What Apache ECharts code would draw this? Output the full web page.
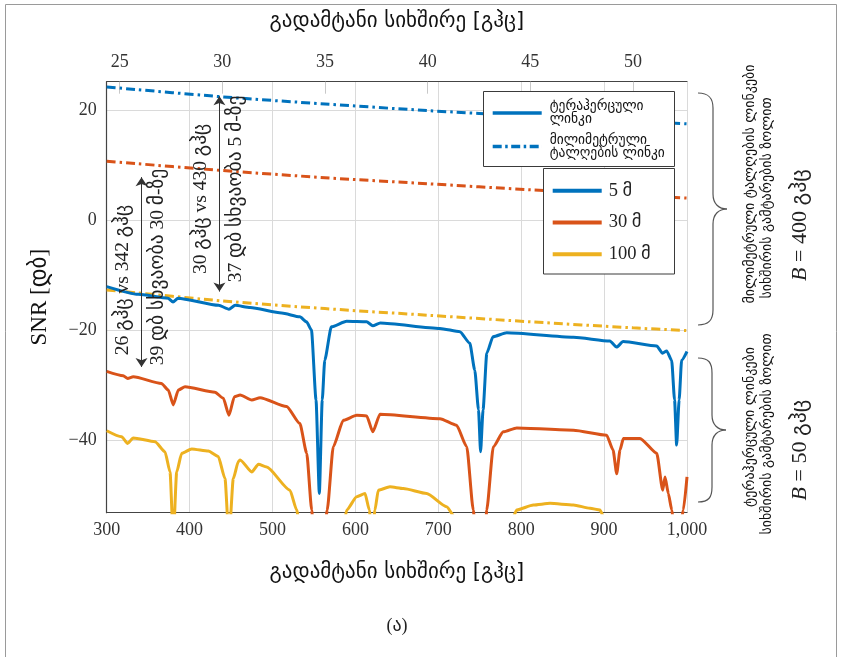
<!DOCTYPE html>
<html>
<head>
<meta charset="utf-8">
<script src="https://cdn.jsdelivr.net/npm/echarts@6/dist/echarts.min.js"></script>
<style>
  html, body { margin: 0; padding: 0; background: #fff; }
  #chart { width: 842px; height: 657px; }
</style>
</head>
<body>
<div id="chart"></div>
<script>
// SNR of terahertz links (bottom axis, 300–1000 GHz) against millimetre-wave links
// (top axis, ~24–53 GHz) for three link distances.

// Tick values
const topTicks = [25, 30, 35, 40, 45, 50];
const snrTicks = [-40, -20, 0, 20];

// Terahertz link, 5 m
const thz5mFreq = [300, 338, 374, 380, 386, 435, 447.5, 455, 473, 511, 533, 541, 547, 552.5, 556.5, 560, 563, 571, 589.5, 613.5, 621, 630, 702, 726, 738, 744, 748.5, 751, 754, 758.5, 766, 782.5, 863, 907, 915, 923, 963.5, 970.5, 975.5, 981.5, 985, 987.5, 990.5, 993.5, 1000];
const thz5mSnr  = [-12.1, -13.5, -14.2, -14.9, -14.2, -15.5, -16.2, -15.5, -15.9, -16.9, -17.6, -18.5, -20.0, -32.7, -49.7, -32.7, -25.5, -19.4, -18.4, -18.5, -19.2, -18.7, -19.7, -20.3, -22.4, -27.3, -34.5, -42.1, -34.5, -24.2, -21.2, -20.5, -21.3, -22.0, -23.1, -22.1, -22.9, -24.2, -23.8, -25.5, -32.7, -40.9, -32.7, -25.5, -23.9];

// Terahertz link, 30 m
const thz30mFreq = [300, 320, 325.3, 332, 366, 374.3, 380.3, 386.4, 394.5, 430.6, 440.7, 447.5, 454, 461, 475, 485, 517, 533, 541.3, 547.3, 550, 556, 562, 566, 573.3, 585.4, 601.6, 613.6, 621, 629.7, 702, 722, 734.3, 742.2, 745.5, 751.5, 756.3, 758.4, 766.4, 778.4, 794.6, 863, 903, 910.8, 915.2, 919.2, 923.2, 943.3, 963.5, 970.7, 973.5, 977.5, 981.6, 987.6, 995.6, 1000];
const thz30mSnr  = [-27.5, -28.3, -28.8, -28.5, -29.7, -30.9, -33.6, -30.9, -30.3, -31.3, -32.4, -35.5, -32.1, -31.8, -32.7, -32.3, -33.9, -37.0, -42.4, -52.7, -58, -62, -58, -52.7, -41.2, -36.4, -35.5, -35.6, -38.5, -35.3, -36.1, -37.3, -41.2, -52.7, -58, -62, -58, -52.7, -41.2, -38.5, -37.8, -38.2, -39.1, -41.8, -46.1, -41.8, -39.7, -39.7, -42.4, -49.1, -46.7, -49.7, -52.7, -62, -52.7, -46.7];

// Terahertz link, 100 m
const thz100mFreq = [300, 318, 325.3, 332, 358.3, 370.3, 376.4, 380.3, 384.4, 390.5, 402.5, 422.6, 434.6, 442.7, 447.5, 452.7, 458.8, 461, 475, 483, 493, 521, 529.2, 533.2, 545, 557, 575, 585, 589.5, 601.6, 611.6, 616.8, 620, 623.6, 627.6, 641.7, 657.8, 686, 710, 722, 750, 789, 794.6, 814.6, 834.8, 863, 883, 895, 901, 950, 1000];
const thz100mSnr  = [-38.3, -39.4, -40.6, -39.6, -40.3, -42.1, -45.8, -58, -45.8, -42.4, -41.6, -42.0, -43.0, -47.0, -58, -47.0, -43.9, -43.6, -45.8, -44.4, -44.9, -49.1, -52.7, -56.4, -62, -70, -62, -56.4, -52.7, -50.3, -49.7, -52.7, -58, -52.7, -49.1, -48.5, -48.8, -49.7, -52.1, -54.5, -62, -54.5, -52.7, -51.8, -51.5, -51.8, -52.4, -52.7, -54.5, -62, -62];

// Millimetre-wave links (top axis frequency)
const mmFreq     = [24.37, 30, 35, 40, 45, 50, 52.63];
const mm5mSnr    = [24.2, 22.4, 21.1, 19.9, 18.9, 18.0, 17.5];
const mm30mSnr   = [10.7, 9.0, 7.7, 6.6, 5.5, 4.5, 4.0];
const mm100mSnr  = [-12.7, -14.7, -16.1, -17.3, -18.5, -19.6, -20.1];

// Difference arrows: bottom-axis frequency, upper and lower SNR ends
const arrowFreq   = [342, 436];
const arrowTop    = [7.8, 22.5];
const arrowBottom = [-26.7, -13.0];
const arrowLeftText  = ['26 გჰც vs 342 გჰც', '30 გჰც vs 430 გჰც'];
const arrowRightText = ['39 დბ სხვაობა 30 მ-ზე', '37 დბ სხვაობა 5 მ-ზე'];

const lineKindNames = ['ტერაჰერცული\nლინკი', 'მილიმეტრული\nტალღების ლინკი'];
const distanceNames = ['5 მ', '30 მ', '100 მ'];

const BLUE = '#0072BD', ORANGE = '#D95319', YELLOW = '#EDB120';
const SERIF = '"Liberation Serif", "DejaVu Serif", serif';
const GEO = '"DejaVu Sans", sans-serif';
const MIXED = '"Liberation Serif", "DejaVu Sans", serif';
const DASH_DOT = [9, 4, 2.5, 4];

// legend glyphs: a solid bar and a dash-dot bar
const ICON_SOLID = 'path://M0,0h49v3.5h-49z';
const ICON_DASHDOT = 'path://M0,0h9v3.5h-9z M12.5,0h2.5v3.5h-2.5z M18.5,0h9v3.5h-9z M31,0h2.5v3.5h-2.5z M37,0h9v3.5h-9z M49,0h0.01v3.5h-0.01z';

function pairs(xs, ys) { return xs.map((x, i) => [x, ys[i]]); }
function minus(v) { return String(v).replace('-', '\u2212'); }

const chart = echarts.init(document.getElementById('chart'), null, { renderer: 'canvas' });

function thzSeries(name, color, xs, ys) {
  return {
    name, type: 'line', xAxisIndex: 0, yAxisIndex: 0,
    data: pairs(xs, ys), symbol: 'none', clip: true, z: 3,
    smooth: 0.2, smoothMonotone: 'x',
    lineStyle: { color, width: 3 }, itemStyle: { color }
  };
}
function mmSeries(name, color, ys) {
  return {
    name, type: 'line', xAxisIndex: 1, yAxisIndex: 0,
    data: pairs(mmFreq, ys), symbol: 'none', clip: true, z: 3,
    smooth: 0.3,
    lineStyle: { color, width: 3, type: DASH_DOT }, itemStyle: { color }
  };
}

const option = {
  animation: false,
  backgroundColor: '#fff',
  grid: { left: 106.7, right: 155, top: 81.7, bottom: 144.3, containLabel: false },
  legend: [
    {
      data: [{ name: lineKindNames[0], icon: ICON_SOLID }, { name: lineKindNames[1], icon: ICON_DASHDOT }],
      orient: 'vertical', left: 492.7, top: 99.5, padding: 0,
      itemWidth: 49, itemHeight: 12, itemGap: 6.5, selectedMode: false, z: 20,
      textStyle: { fontFamily: GEO, fontSize: 13.5, lineHeight: 13, color: '#111', padding: [0, 0, 0, 3] }
    },
    {
      data: distanceNames.map(n => ({ name: n, icon: 'path://M0,0h49v4h-49z' })),
      orient: 'vertical', left: 552.7, top: 180.7, padding: 0,
      itemWidth: 49, itemHeight: 12, itemGap: 11.8, selectedMode: false, z: 20,
      textStyle: { fontFamily: MIXED, fontSize: 18.5, lineHeight: 20, color: '#222', padding: [0, 0, 0, 2] }
    }
  ],
  xAxis: [
    {
      type: 'value', position: 'bottom', min: 300, max: 1000, interval: 100,
      name: 'გადამტანი სიხშირე [გჰც]', nameLocation: 'middle', nameGap: 49,
      nameTextStyle: { fontFamily: GEO, fontSize: 21, color: '#111' },
      axisLine: { show: true, onZero: false, lineStyle: { color: '#444', width: 1.2 } },
      axisTick: { show: false },
      axisLabel: { fontFamily: SERIF, fontSize: 18, color: '#333', margin: 9,
        formatter: v => v === 1000 ? '1,000' : String(v) },
      splitLine: { show: true, lineStyle: { color: '#dadada', width: 1 } }
    },
    {
      type: 'value', position: 'top', min: 24.37, max: 52.63,
      name: 'გადამტანი სიხშირე [გჰც]', nameLocation: 'middle', nameGap: 50,
      nameTextStyle: { fontFamily: GEO, fontSize: 21, color: '#111' },
      axisLine: { show: true, onZero: false, lineStyle: { color: '#444', width: 1.2 } },
      axisTick: { show: true, inside: true, length: 12, customValues: topTicks, lineStyle: { color: '#c8c8c8' } },
      axisLabel: { fontFamily: SERIF, fontSize: 18, color: '#333', margin: 10, customValues: topTicks },
      splitLine: { show: false }
    }
  ],
  yAxis: [
    {
      type: 'value', min: -53.2, max: 25.15,
      name: 'SNR [დბ]', nameLocation: 'middle', nameGap: 55,
      nameTextStyle: { fontFamily: MIXED, fontSize: 23, color: '#111' },
      axisLine: { show: true, onZero: false, lineStyle: { color: '#444', width: 1.2 } },
      axisTick: { show: false, customValues: snrTicks },
      axisLabel: { fontFamily: SERIF, fontSize: 18, color: '#333', margin: 10, customValues: snrTicks,
        formatter: v => minus(v) },
      splitLine: { show: true, lineStyle: { color: '#dadada', width: 1 } }
    }
  ],
  series: [
    // legend-only entries describing the line styles
    { name: lineKindNames[0], type: 'line', data: [], symbol: 'none', itemStyle: { color: BLUE }, lineStyle: { color: BLUE, width: 3.5 } },
    { name: lineKindNames[1], type: 'line', data: [], symbol: 'none', itemStyle: { color: BLUE }, lineStyle: { color: BLUE, width: 3.5, type: DASH_DOT } },
    mmSeries('mm 5', BLUE, mm5mSnr),
    mmSeries('mm 30', ORANGE, mm30mSnr),
    mmSeries('mm 100', YELLOW, mm100mSnr),
    thzSeries(distanceNames[2], YELLOW, thz100mFreq, thz100mSnr),
    thzSeries(distanceNames[1], ORANGE, thz30mFreq, thz30mSnr),
    thzSeries(distanceNames[0], BLUE, thz5mFreq, thz5mSnr),
    {
      name: 'arrows', type: 'line', data: [], symbol: 'none', z: 5,
      markLine: {
        silent: true, symbol: ['arrow', 'arrow'], symbolSize: 9, animation: false,
        label: { show: false },
        lineStyle: { color: '#333', width: 1, type: 'solid' },
        data: arrowFreq.map((f, i) => [{ coord: [f, arrowBottom[i]] }, { coord: [f, arrowTop[i]] }])
      }
    }
  ]
};

chart.setOption(option);

// Annotations positioned from data coordinates
const g = [];
g.push({ type: 'rect', z: 0, shape: { x: 5.5, y: 4.5, width: 831, height: 700 },
  style: { fill: 'none', stroke: '#9a9a9a', lineWidth: 1 }, silent: true });

// legend frames
g.push({ type: 'rect', z: 15, shape: { x: 483.5, y: 91.5, width: 191, height: 75 },
  style: { fill: '#fff', stroke: '#3a3a3a', lineWidth: 1 }, silent: true });
g.push({ type: 'rect', z: 15, shape: { x: 543.5, y: 168.5, width: 131, height: 105.5 },
  style: { fill: '#fff', stroke: '#3a3a3a', lineWidth: 1 }, silent: true });

arrowFreq.forEach((f, i) => {
  const top = chart.convertToPixel({ xAxisIndex: 0, yAxisIndex: 0 }, [f, arrowTop[i]]);
  const bot = chart.convertToPixel({ xAxisIndex: 0, yAxisIndex: 0 }, [f, arrowBottom[i]]);
  const mid = (top[1] + bot[1]) / 2;
  g.push({ type: 'text', z: 6, x: top[0] - 19, y: mid + (i === 0 ? 8 : 5), rotation: Math.PI / 2,
    style: { text: arrowLeftText[i], font: '19.5px ' + MIXED, fill: '#222', align: 'center', verticalAlign: 'middle' } });
  g.push({ type: 'text', z: 6, x: top[0] + 16, y: mid - 5, rotation: Math.PI / 2,
    style: { text: arrowRightText[i], font: '19.5px ' + MIXED, fill: '#222', align: 'center', verticalAlign: 'middle' } });
});

// curly brace opening to the left, cusp pointing right
function brace(xEnd, xMid, xCusp, yTop, yCusp, yBot) {
  const st = { fill: 'none', stroke: '#555', lineWidth: 1.2 };
  const parts = [
    { type: 'bezierCurve', shape: { x1: xEnd, y1: yTop, x2: xMid, y2: yTop + 15, cpx1: xEnd + 11, cpy1: yTop, cpx2: xMid, cpy2: yTop + 5 } },
    { type: 'line', shape: { x1: xMid, y1: yTop + 15, x2: xMid, y2: yCusp - 15 } },
    { type: 'bezierCurve', shape: { x1: xMid, y1: yCusp - 15, x2: xCusp, y2: yCusp, cpx1: xMid, cpy1: yCusp - 5, cpx2: xMid + 6, cpy2: yCusp } },
    { type: 'bezierCurve', shape: { x1: xCusp, y1: yCusp, x2: xMid, y2: yCusp + 15, cpx1: xMid + 6, cpy1: yCusp, cpx2: xMid, cpy2: yCusp + 5 } },
    { type: 'line', shape: { x1: xMid, y1: yCusp + 15, x2: xMid, y2: yBot - 15 } },
    { type: 'bezierCurve', shape: { x1: xMid, y1: yBot - 15, x2: xEnd, y2: yBot, cpx1: xMid, cpy1: yBot - 5, cpx2: xEnd + 11, cpy2: yBot } }
  ];
  parts.forEach(p => { p.z = 6; p.silent = true; p.style = st; g.push(p); });
}
brace(698, 713, 727, 93, 209, 325);
brace(698, 712, 726, 358, 430, 502);

function sideText(text, x, y, size) {
  g.push({ type: 'text', z: 6, x, y, rotation: Math.PI / 2,
    style: { text, font: size + 'px ' + GEO, fill: '#111', align: 'center', verticalAlign: 'middle' } });
}
function bandText(value, x, y) {
  g.push({ type: 'text', z: 6, x, y, rotation: Math.PI / 2,
    style: { text: '{b|B} = ' + value + ' გჰც', font: '22px ' + MIXED, fill: '#222', align: 'center', verticalAlign: 'middle',
      rich: { b: { fontFamily: SERIF, fontStyle: 'italic', fontSize: 22, fill: '#222' } } } });
}
sideText('მილიმეტრული ტალღების ლინკები', 750, 184, 14);
sideText('სიხშირის გამტარების ზოლით', 767, 198, 14);
bandText('400', 800, 225);
sideText('ტერაჰერცული ლინკები', 750, 427, 14);
sideText('სიხშირის გამტარების ზოლით', 767, 434, 14);
bandText('50', 800, 450);

g.push({ type: 'text', z: 6, x: 397, y: 626,
  style: { text: '(ა)', font: '18px ' + MIXED, fill: '#222', align: 'center', verticalAlign: 'middle' } });

chart.setOption({ graphic: g });
</script>
</body>
</html>
